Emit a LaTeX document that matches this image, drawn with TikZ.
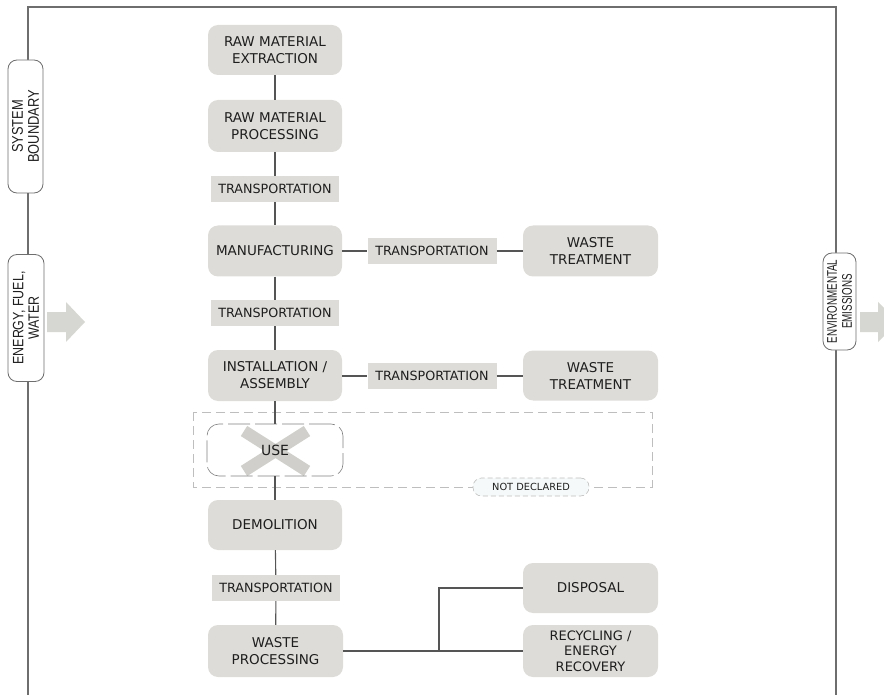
\documentclass[tikz,border=0pt]{standalone}
\usepackage{fontspec}
\setmainfont{DejaVu Sans}
\newfontfamily\sidenarrow[FakeStretch=0.7]{Liberation Sans}
\newfontfamily\sidemid[FakeStretch=0.83]{Liberation Sans}
\definecolor{boxgray}{RGB}{221,220,216}
\definecolor{xgray}{RGB}{208,207,203}
\definecolor{arrowgray}{RGB}{214,214,210}
\definecolor{txt}{RGB}{30,30,30}
\definecolor{linegray}{RGB}{85,85,85}
\definecolor{framegray}{RGB}{110,110,110}
\definecolor{dashgray}{RGB}{190,190,190}
\definecolor{ndfill}{RGB}{246,249,249}
\begin{document}
\begin{tikzpicture}[x=1pt,y=-1pt,
  mainbox/.style={rounded corners=10pt, fill=boxgray, minimum width=134pt, minimum height=50pt,
    align=center, text=txt, inner sep=0pt, font=\fontsize{13.5}{17}\selectfont},
  transbox/.style={fill=boxgray, minimum width=128pt, minimum height=26pt, text=txt,
    inner sep=0pt, font=\fontsize{12.7}{14}\selectfont},
  sidebox/.style={draw=framegray, fill=white, rounded corners=9pt, rotate=90, align=center,
    text=txt, line width=0.8pt, inner sep=0pt},
  conn/.style={draw=linegray, line width=1.1pt},
  frame/.style={draw=framegray, line width=1.4pt}
]
\useasboundingbox (0,0) rectangle (884,695);

% system boundary frame
\draw[frame] (28,695) -- (28,7) -- (836,7) -- (836,695);

% side labels
\node[sidebox, minimum width=133pt, minimum height=35pt, font=\sidemid\fontsize{15.5}{16}\selectfont] (sb) at (25.5,126.5) {SYSTEM\\BOUNDARY};
\node[sidebox, minimum width=127pt, minimum height=36pt, font=\sidemid\fontsize{15}{15.5}\selectfont] (efw) at (26,318) {ENERGY, FUEL,\\WATER};
\node[sidebox, minimum width=97pt, minimum height=33pt, font=\sidenarrow\fontsize{14}{15}\selectfont] (env) at (839.5,301.5) {ENVIRONMENTAL\\EMISSIONS};

% block arrows
\fill[arrowgray] (47,312) -- (66,312) -- (66,302) -- (85,322) -- (66,342) -- (66,332) -- (47,332) -- cycle;
\fill[arrowgray] (860,312) -- (878,312) -- (878,302) -- (898,322) -- (878,342) -- (878,332) -- (860,332) -- cycle;

% not declared region
\draw[dashgray, line width=1pt, dash pattern=on 9pt off 5pt] (193,412) rectangle (652,487);
\node[draw=dashgray, fill=ndfill, dash pattern=on 5pt off 3pt, line width=0.6pt, rounded corners=8.5pt,
  minimum width=116pt, minimum height=18pt, inner sep=0pt, text=txt,
  font=\fontsize{9.8}{11}\selectfont] (nd) at (531,487) {NOT DECLARED};

% main column
\node[mainbox] (ext) at (275,50) {RAW MATERIAL\\EXTRACTION};
\node[mainbox, minimum height=52pt] (proc) at (275,126) {RAW MATERIAL\\PROCESSING};
\node[transbox] (t1) at (275,189) {TRANSPORTATION};
\node[mainbox, minimum height=51pt] (man) at (275,251) {MANUFACTURING};
\node[transbox] (t2) at (275,313) {TRANSPORTATION};
\node[mainbox, minimum height=51pt] (inst) at (275,375.5) {INSTALLATION /\\ASSEMBLY};

% use (not declared)
\draw[xgray, line width=12pt] (244,431) -- (307,471) (244,471) -- (307,431);
\node[draw=gray, line width=0.6pt, dash pattern=on 22pt off 5pt, rounded corners=12pt,
  minimum width=136pt, minimum height=52pt, inner sep=0pt, text=txt,
  font=\fontsize{14}{16}\selectfont] (use) at (275,450) {USE};

\node[mainbox] (dem) at (275,525) {DEMOLITION};
\node[transbox] (t3) at (276,588) {TRANSPORTATION};
\node[mainbox, minimum height=52pt, minimum width=135pt] (wp) at (275.5,651) {WASTE\\PROCESSING};

% side branches
\node[transbox, minimum width=129pt] (tr1) at (432,251) {TRANSPORTATION};
\node[mainbox, minimum width=135pt, minimum height=51pt] (wt1) at (590.5,251) {WASTE\\TREATMENT};
\node[transbox, minimum width=129pt] (tr2) at (432,376) {TRANSPORTATION};
\node[mainbox, minimum width=135pt] (wt2) at (590.5,375.5) {WASTE\\TREATMENT};
\node[mainbox, minimum width=135pt] (disp) at (590.5,588) {DISPOSAL};
\node[mainbox, minimum width=135pt, minimum height=52pt, font=\fontsize{13}{15.5}\selectfont] (rec) at (590.5,651) {RECYCLING /\\ENERGY\\RECOVERY};

% connectors
\draw[conn] (ext) -- (proc);
\draw[conn] (proc) -- (t1);
\draw[conn] (t1) -- (man);
\draw[conn] (man) -- (t2);
\draw[conn] (t2) -- (inst);
\draw[conn] (inst) -- (use);
\draw[conn] (use) -- (dem);
\draw[conn] (dem) -- (t3);
\draw[conn] (t3) -- (wp);
\draw[conn] (man) -- (tr1);
\draw[conn] (tr1) -- (wt1);
\draw[conn] (inst.east |- tr2) -- (tr2);
\draw[conn] (tr2) -- (wt2.west |- tr2);
\coordinate (br) at (439,651);
\draw[conn] (wp) -- (rec);
\draw[conn] (br) |- (disp.west);
\end{tikzpicture}
\end{document}
